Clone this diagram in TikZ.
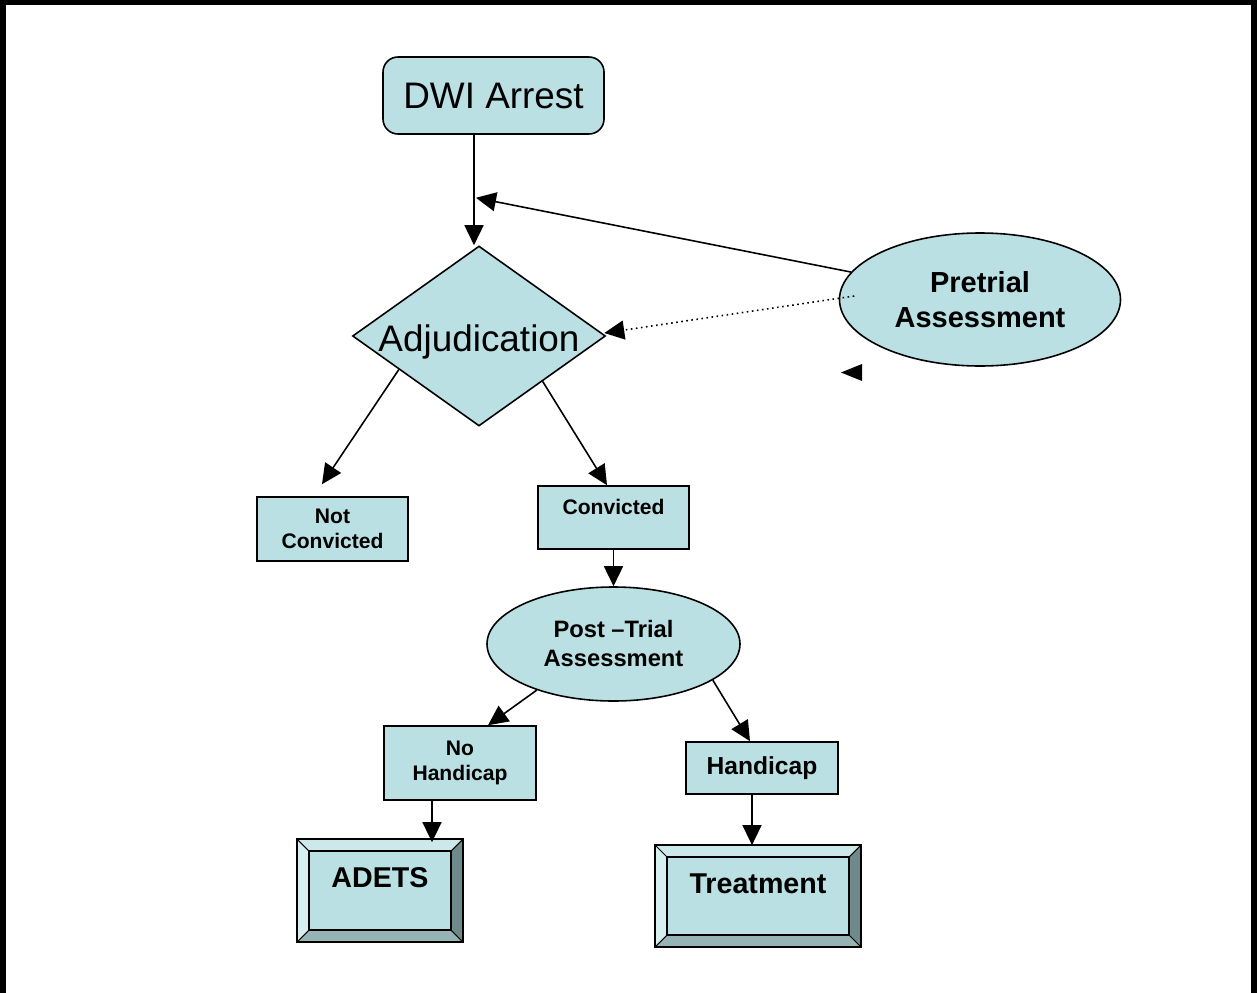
\documentclass[tikz,border=0pt]{standalone}
\usepackage{fontspec}
\setmainfont{Liberation Sans}
\usetikzlibrary{shapes.geometric,arrows.meta,calc}

\definecolor{boxfill}{RGB}{186,224,227}
\definecolor{bevtop}{RGB}{204,232,234}
\definecolor{bevleft}{RGB}{216,239,241}
\definecolor{bevright}{RGB}{111,138,138}
\definecolor{bevbottom}{RGB}{150,180,182}

\tikzset{
    box/.style={draw, rectangle, line width=0.9pt, fill=boxfill, align=center, font=\bfseries\fontsize{12}{14}\selectfont, inner sep=0pt},
    oval/.style={draw, ellipse, line width=0.9pt, fill=boxfill, align=center, inner sep=0pt},
    bevelbox/.style={draw, rectangle, line width=1pt, fill=boxfill, inner sep=0pt, font=\bfseries\fontsize{16.3}{19}\selectfont, text height=0.45cm, text depth=0.57cm},
    arr/.style={-{Triangle[length=0.4cm, width=0.38cm]}, line width=0.9pt}
}

\begin{document}
\begin{tikzpicture}
        \useasboundingbox (0,0) rectangle (25.14,-19.86);
        \draw[line width=0.11cm] (0.06,-20) -- (0.06,-0.05) -- (25.08,-0.05) -- (25.08,-20);

        \node[draw, rectangle, rounded corners=0.3cm, line width=0.9pt, fill=boxfill, minimum width=4.42cm, minimum height=1.54cm, font=\fontsize{21}{25}\selectfont] (DWI) at (9.87,-1.91) {DWI Arrest};
        \node[draw, diamond, line width=0.9pt, fill=boxfill, minimum width=5.06cm, minimum height=3.6cm, inner sep=0pt] (Adj) at (9.58,-6.72) {};
        \node[font=\fontsize{21}{25}\selectfont] at ([yshift=-0.12cm]Adj.center) {Adjudication};
        \node[oval, minimum width=5.62cm, minimum height=2.66cm, font=\bfseries\fontsize{16.5}{19.5}\selectfont] (Pre) at (19.6,-5.99) {Pretrial\\Assessment};

        \node[box, minimum width=3.02cm, minimum height=1.28cm] (NotConv) at (6.65,-10.58) {Not\\Convicted};
        \node[box, minimum width=3.02cm, minimum height=1.26cm, text height=0.3cm, text depth=0.41cm] (Conv) at (12.27,-10.35) {Convicted};
        \node[oval, minimum width=5.06cm, minimum height=2.28cm, font=\bfseries\fontsize{13.5}{16.5}\selectfont] (Post) at (12.27,-12.88) {Post --Trial\\Assessment};

        \node[box, minimum width=3.04cm, minimum height=1.48cm] (NoHand) at (9.2,-15.26) {No\\Handicap};
        \node[box, minimum width=3.04cm, minimum height=1.04cm, font=\bfseries\fontsize{14}{16}\selectfont] (Hand) at (15.24,-15.36) {Handicap};

        \node[bevelbox, minimum width=3.28cm, minimum height=2.02cm] (ADETS) at (7.6,-17.81) {ADETS};
        \node[bevelbox, minimum width=4.08cm, minimum height=2cm] (Treat) at (15.16,-17.92) {Treatment};

        % bevelled frames
        \foreach \n in {ADETS,Treat}{
            \fill[bevtop] (\n.north west) -- (\n.north east) -- ([shift={(-0.24,-0.24)}]\n.north east) -- ([shift={(0.24,-0.24)}]\n.north west) -- cycle;
            \fill[bevleft] (\n.north west) -- ([shift={(0.24,-0.24)}]\n.north west) -- ([shift={(0.24,0.24)}]\n.south west) -- (\n.south west) -- cycle;
            \fill[bevright] (\n.north east) -- ([shift={(-0.24,-0.24)}]\n.north east) -- ([shift={(-0.24,0.24)}]\n.south east) -- (\n.south east) -- cycle;
            \fill[bevbottom] (\n.south west) -- ([shift={(0.24,0.24)}]\n.south west) -- ([shift={(-0.24,0.24)}]\n.south east) -- (\n.south east) -- cycle;
            \draw[line width=1pt] ([shift={(0.24,-0.24)}]\n.north west) rectangle ([shift={(-0.24,0.24)}]\n.south east);
            \draw[line width=0.6pt] (\n.north west) -- ([shift={(0.24,-0.24)}]\n.north west);
            \draw[line width=0.6pt] (\n.north east) -- ([shift={(-0.24,-0.24)}]\n.north east);
            \draw[line width=0.6pt] (\n.south west) -- ([shift={(0.24,0.24)}]\n.south west);
            \draw[line width=0.6pt] (\n.south east) -- ([shift={(-0.24,0.24)}]\n.south east);
            \draw[line width=1pt] (\n.north west) rectangle (\n.south east);
        }

        \coordinate (dw) at ([xshift=-0.39cm]DWI.south);
        \coordinate (join) at ($(dw)+(0.04,-1.26)$);
        \coordinate (nh) at ([xshift=-0.56cm]NoHand.south);
        \coordinate (hc) at ([xshift=-0.2cm]Hand.south);

        \draw[arr] (dw) -- (dw |- Adj.north);
        \draw[arr] (Pre.168) -- (join);
        \draw[arr, dotted] ([shift={(0.31,0.07)}]Pre.west) -- ([shift={(-0.04,0.06)}]Adj.east);
        \draw[arr] ($(Adj.west)!0.37!(Adj.south)$) -- ([shift={(-0.21,0.24)}]NotConv.north);
        \draw[arr] ($(Adj.south)!0.5!(Adj.east)$) -- ([xshift=-0.13cm]Conv.north);
        \draw[arr] (Conv.south) -- (Post.north);
        \draw[arr] (Post.211) -- ([xshift=0.56cm]NoHand.north);
        \draw[arr] (Post.340) -- ([xshift=-0.24cm]Hand.north);
        \draw[arr] (nh) -- ([yshift=-0.06cm]nh |- ADETS.north);
        \draw[arr] (hc) -- (hc |- Treat.north);

        % loose arrowhead
        \fill (16.82,-7.45) -- (17.24,-7.28) -- (17.24,-7.62) -- cycle;
    \end{tikzpicture}
\end{document}
